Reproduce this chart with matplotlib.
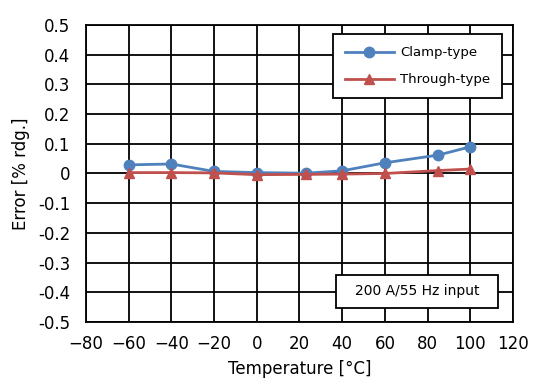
import matplotlib.pyplot as plt
from matplotlib.patches import Rectangle

plt.rcParams['font.family'] = ['DejaVu Sans']

# temperature points and error values [% rdg.]
temps = [-60, -40, -20, 0, 23, 40, 60, 85, 100]
clamp = [0.029, 0.032, 0.007, 0.003, 0.001, 0.009, 0.036, 0.062, 0.090]
through = [0.003, 0.003, 0.002, -0.004, -0.003, -0.002, 0.000, 0.010, 0.015]

xticks = list(range(-80, 121, 20))
yticks = [round(-0.5 + 0.1 * i, 1) for i in range(11)]

fig = plt.figure(figsize=(5.5, 3.89), dpi=100)
ax = fig.add_axes([0.156, 0.172, 0.777, 0.764])

ax.plot(temps, clamp, color='#4F81BD', marker='o', markersize=7.5, linewidth=2, label='Clamp-type')
ax.plot(temps, through, color='#C0504D', marker='^', markersize=7.5, linewidth=2, label='Through-type')

ax.set_xlim(-80, 120)
ax.set_ylim(-0.5, 0.5)
ax.set_xticks(xticks)
ax.set_yticks(yticks)
ax.set_yticklabels(['0' if v == 0 else '{:g}'.format(v) for v in yticks])
ax.grid(True, color='black', linewidth=1.3)
ax.set_axisbelow(True)
for s in ax.spines.values():
    s.set_linewidth(1.3)
ax.tick_params(labelsize=12, length=0)
ax.tick_params(axis='y', pad=11)
ax.tick_params(axis='x', pad=9)

ax.set_xlabel('Temperature [\u00b0C]', fontsize=12, labelpad=5)
ax.set_ylabel('Error [% rdg.]', fontsize=12, labelpad=6)

leg = ax.legend(loc='upper right', bbox_to_anchor=(0.99, 0.99), fontsize=9.5,
                fancybox=False, framealpha=1, edgecolor='black', borderpad=0.9,
                labelspacing=1.05, handlelength=3.7, handletextpad=0.5)
leg.get_frame().set_linewidth(1.3)

# condition note box
ax.add_patch(Rectangle((0.585, 0.047), 0.38, 0.111, transform=ax.transAxes,
                       facecolor='white', edgecolor='black', linewidth=1.3, zorder=5))
ax.text(0.775, 0.103, '200 A/55 Hz input', transform=ax.transAxes, ha='center', va='center',
        fontsize=10, zorder=6)

fig.savefig('out.png', dpi=100)
